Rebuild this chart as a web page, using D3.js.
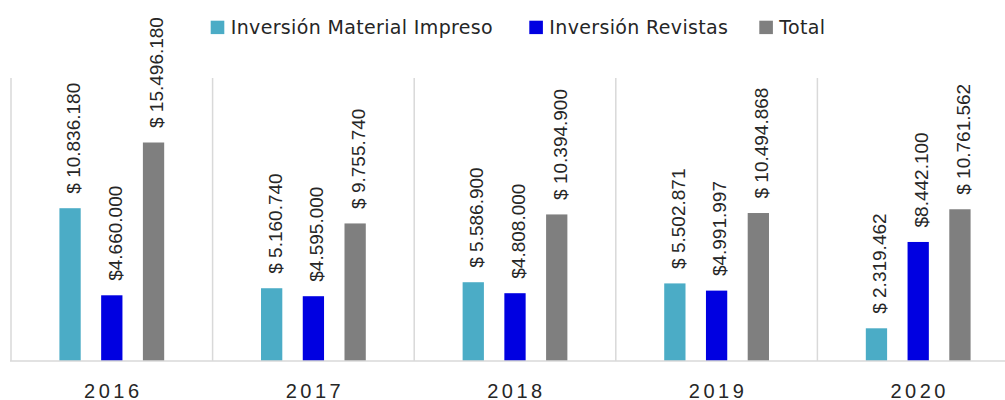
<!DOCTYPE html>
<html>
<head>
<meta charset="utf-8">
<script src="https://cdn.jsdelivr.net/npm/d3@7"></script>
<style>
  body { margin: 0; background: #fff; }
  svg { display: block; }
</style>
</head>
<body>
<div id="chart"></div>
<script>
const years = ["2016", "2017", "2018", "2019", "2020"];
const seriesNames = ["Inversión Material Impreso", "Inversión Revistas", "Total"];
const impreso = [10836180, 5160740, 5586900, 5502871, 2319462];
const revistas = [4660000, 4595000, 4808000, 4991997, 8442100];
const total = [15496180, 9755740, 10394900, 10494868, 10761562];
const colors = ["#4bacc6", "#0000e1", "#7f7f7f"];
const prefixes = ["$ ", "$", "$ "];

const width = 1005, height = 400;
const baseY = 361, topY = 79;

const svg = d3.select("#chart")
	.append("svg")
	.attr("width", width)
	.attr("height", height);

const x0 = d3.scaleBand()
	.domain(years)
	.range([11, 1019])
	.padding(0);

const x1 = d3.scaleBand()
	.domain(seriesNames)
	.range([0, x0.bandwidth()])
	.paddingInner(0.49)
	.paddingOuter(1.16);

const y = d3.scaleLinear()
	.domain([0, 20000000])
	.range([baseY, topY]);

const locale = d3.formatLocale({ decimal: ",", thousands: ".", grouping: [3], currency: ["$", ""] });
const fmt = locale.format(",");

const rows = years.map(function(yr, i) {
	return { year: yr, values: [impreso[i], revistas[i], total[i]] };
});

// separators between categories
svg.append("g")
	.selectAll("line")
	.data(years)
	.enter()
	.append("line")
	.attr("x1", function(d) { return x0(d); })
	.attr("x2", function(d) { return x0(d); })
	.attr("y1", topY - 1)
	.attr("y2", baseY)
	.attr("stroke", "#d9d9d9")
	.attr("stroke-width", 1.5);

const groups = svg.selectAll("g.year")
	.data(rows)
	.enter()
	.append("g")
	.attr("class", "year")
	.attr("transform", function(d) { return "translate(" + x0(d.year) + ",0)"; });

const cells = function(d) {
	return d.values.map(function(v, j) { return { key: seriesNames[j], value: v, j: j }; });
};

groups.selectAll("rect")
	.data(cells)
	.enter()
	.append("rect")
	.attr("x", function(d) { return x1(d.key); })
	.attr("y", function(d) { return y(d.value); })
	.attr("width", x1.bandwidth())
	.attr("height", function(d) { return baseY - y(d.value); })
	.attr("fill", function(d) { return colors[d.j]; });

groups.selectAll("text")
	.data(cells)
	.enter()
	.append("text")
	.attr("transform", function(d) {
		const cx = x1(d.key) + x1.bandwidth() / 2 + 3;
		return "translate(" + cx + "," + (y(d.value) - 14.5) + ") rotate(-90)";
	})
	.attr("dy", "0.36em")
	.attr("font-family", "Liberation Sans, Arial, sans-serif")
	.attr("font-size", 19)
	.attr("fill", "#262626")
	.text(function(d) { return prefixes[d.j] + fmt(d.value); });

// baseline
svg.append("line")
	.attr("x1", 10)
	.attr("x2", width)
	.attr("y1", baseY)
	.attr("y2", baseY)
	.attr("stroke", "#d9d9d9")
	.attr("stroke-width", 1.5);

// year labels
svg.append("g")
	.selectAll("text")
	.data(years)
	.enter()
	.append("text")
	.attr("x", function(d) { return x0(d) + x0.bandwidth() / 2 + 1.5; })
	.attr("y", 397.5)
	.attr("text-anchor", "middle")
	.attr("font-family", "Liberation Sans, Arial, sans-serif")
	.attr("font-size", 20)
	.attr("letter-spacing", 3.5)
	.attr("fill", "#262626")
	.text(function(d) { return d; });

// legend
const legendX = [210.7, 529.3, 759.3];
const legend = svg.append("g");
seriesNames.forEach(function(name, i) {
	legend.append("rect")
		.attr("x", legendX[i])
		.attr("y", 20.7)
		.attr("width", 13.6)
		.attr("height", 13.4)
		.attr("fill", colors[i]);
	legend.append("text")
		.attr("x", legendX[i] + 20)
		.attr("y", 34)
		.attr("font-family", "DejaVu Sans, sans-serif")
		.attr("font-size", 19)
		.attr("letter-spacing", 0.35)
		.attr("fill", "#262626")
		.text(name);
});
</script>
</body>
</html>
